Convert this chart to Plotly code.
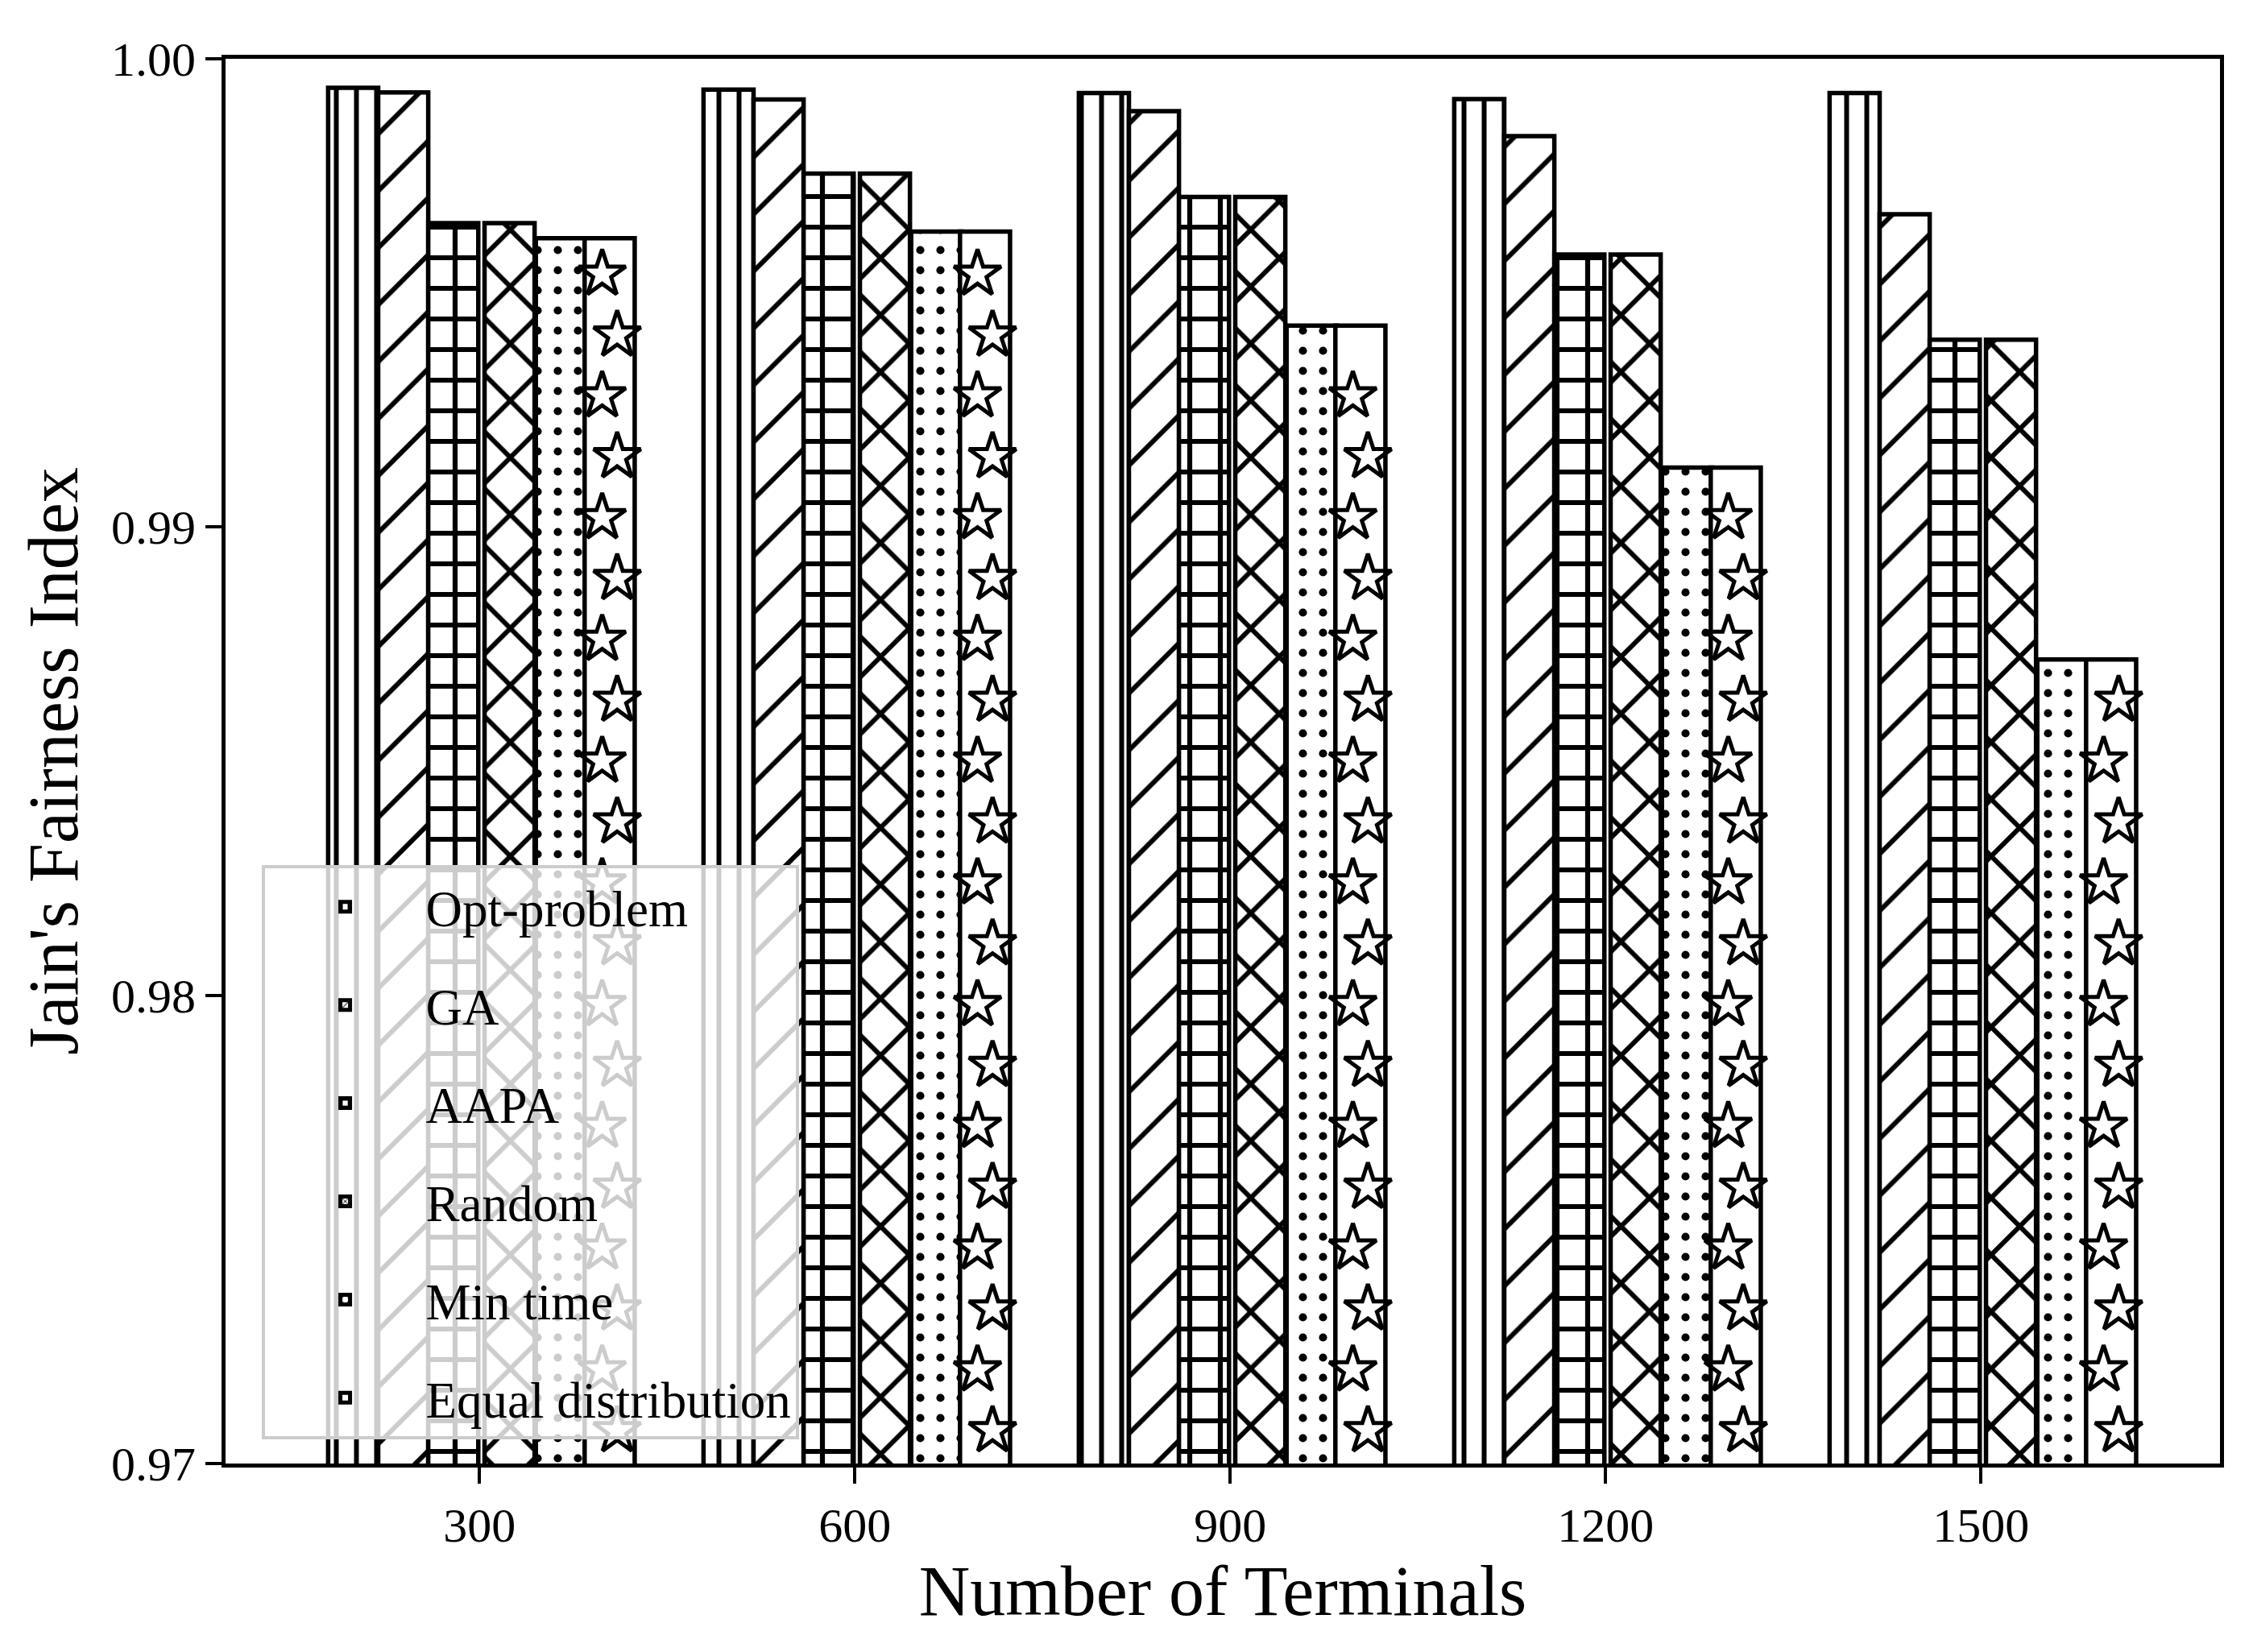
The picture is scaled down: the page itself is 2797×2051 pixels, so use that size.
import plotly.graph_objects as go

# Number of terminals (x categories)
terminals = [300, 600, 900, 1200, 1500]

# Jain's fairness index per method
opt_problem = [0.99938, 0.99934, 0.99927, 0.99914, 0.99927]
ga = [0.99928, 0.99913, 0.99888, 0.99835, 0.99668]
aapa = [0.99649, 0.99755, 0.99705, 0.99582, 0.99400]
random_alloc = [0.99649, 0.99755, 0.99705, 0.99582, 0.99400]
min_time = [0.99617, 0.99631, 0.99430, 0.99127, 0.98717]
equal_dist = [0.99617, 0.99631, 0.99430, 0.99127, 0.98717]

names = ["Opt-problem", "GA", "AAPA", "Random", "Min time", "Equal distribution"]
series = [opt_problem, ga, aapa, random_alloc, min_time, equal_dist]

FONT = "Liberation Serif"
BAR_W = 40
offsets = [-121, -81, -41, 4, 45, 84]

# hatch settings: shape, tile size, solidity
hatches = [
    dict(shape="|", size=25, solidity=0.24),
    dict(shape="/", size=50, solidity=0.12),
    dict(shape="+", size=38, solidity=0.30),
    dict(shape="x", size=50, solidity=0.22),
    dict(shape=".", size=25, solidity=0.13),
    dict(shape="", size=25, solidity=0.2),
]

fig = go.Figure()

for i, (name, vals) in enumerate(zip(names, series)):
    h = hatches[i]
    fig.add_trace(go.Bar(
        x=terminals,
        y=vals,
        name=name,
        legendgroup=name,
        width=BAR_W,
        offset=offsets[i],
        marker=dict(
            color="white",
            line=dict(color="black", width=5.5),
            pattern=dict(shape=h["shape"], size=h["size"], solidity=h["solidity"],
                         fillmode="overlay", fgcolor="black", bgcolor="white",
                         fgopacity=1),
        ),
    ))

# star hatch for "Equal distribution" drawn as open star markers inside the bars
y0, y1 = 0.97, 1.00
step = 0.0013
star_x, star_y = [], []
for xi, top in zip(terminals, equal_dist):
    cx = xi + offsets[5] + BAR_W / 2
    k = 0
    y = y0 + 0.0007
    while y < top - 0.0007:
        star_x.append(cx + (6 if k % 2 == 0 else -6))
        star_y.append(y)
        y += step
        k += 1

fig.add_trace(go.Scatter(
    x=star_x, y=star_y, mode="markers", showlegend=False, hoverinfo="skip",
    marker=dict(symbol="star-open", size=44, color="black", line=dict(width=5, color="black")),
))

fig.update_layout(
    width=2797,
    height=2051,
    barmode="overlay",
    plot_bgcolor="white",
    paper_bgcolor="white",
    font=dict(family=FONT, color="black", size=60),
    margin=dict(l=280, r=41, t=73, b=234, autoexpand=False),
    legend=dict(
        x=0.018, y=0.017, xanchor="left", yanchor="bottom",
        bgcolor="rgba(255,255,255,0.8)",
        bordercolor="#cccccc", borderwidth=4,
        font=dict(family=FONT, size=63),
        traceorder="grouped", tracegroupgap=37,
        itemwidth=190,
    ),
)

fig.update_xaxes(
    range=[97, 1691],
    automargin=False,
    tickvals=terminals,
    ticktext=[str(t) for t in terminals],
    ticks="outside", ticklen=20, tickwidth=4, tickcolor="black",
    showline=True, linecolor="black", linewidth=5, mirror=True,
    showgrid=False, zeroline=False,
    tickfont=dict(family=FONT, size=60),
    title=dict(text="Number of Terminals", font=dict(family=FONT, size=88), standoff=14),
)
fig.update_yaxes(
    range=[y0, y1],
    automargin=False,
    tickvals=[0.97, 0.98, 0.99, 1.00],
    tickformat=".2f",
    ticks="outside", ticklen=20, tickwidth=4, tickcolor="black",
    showline=True, linecolor="black", linewidth=5, mirror=True,
    showgrid=False, zeroline=False,
    tickfont=dict(family=FONT, size=60),
    title=dict(text="Jain's Fairness Index", font=dict(family=FONT, size=88), standoff=14),
)

fig.write_html("out.html", config={"responsive": False, "displayModeBar": False},
               post_script="document.body.style.margin = '0px';")
